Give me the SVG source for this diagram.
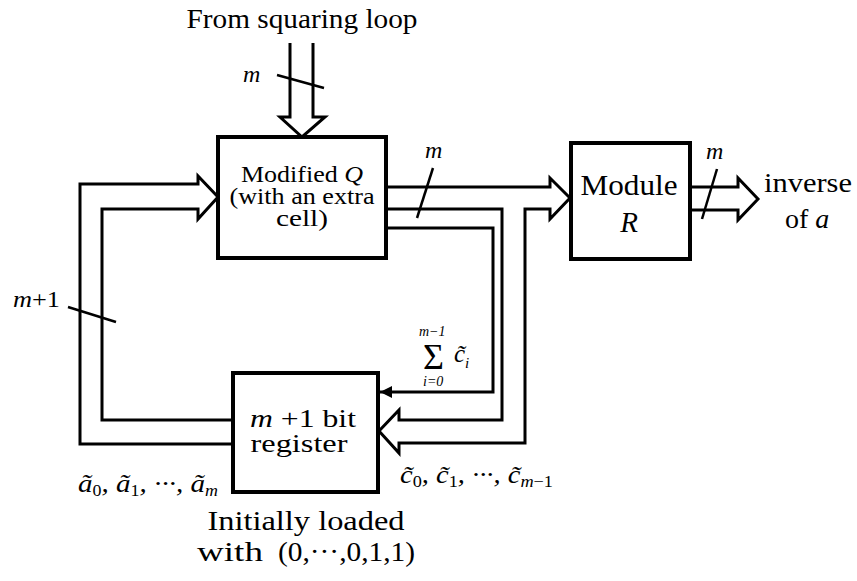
<svg xmlns="http://www.w3.org/2000/svg" width="857" height="581" viewBox="0 0 857 581">
<defs>
<style>
.box{fill:#fff;stroke:#000;stroke-width:4}
.bus{fill:none;stroke:#000;stroke-width:3;stroke-linejoin:miter}
.ln{fill:none;stroke:#000;stroke-width:3}
.sl{fill:none;stroke:#000;stroke-width:2.5}
.i{font-style:italic}
</style>
<marker id="fa" viewBox="0 0 10 10" refX="10" refY="5" markerWidth="6" markerHeight="4" markerUnits="strokeWidth" orient="auto">
<path d="M0,0 L10,5 L0,10 Z" fill="#000"/>
</marker>
</defs>
<rect width="857" height="581" fill="#fff"/>
<g font-family="'Liberation Serif', serif" fill="#000">
<text x="302" y="28" font-size="27" text-anchor="middle" textLength="231" lengthAdjust="spacingAndGlyphs">From squaring loop</text>
<g id="connectors">
<path class="bus" d="M290,43 V117 H280 L302,137 L325,117 H313 V43"/>
<path class="bus" d="M386,187 H550 V178 L570,198 L550,219 V209 H525 V443 H399 V453 L379,431 L399,410 V420 H502 V209 H386"/>
<path class="ln" d="M386,228 H493 V392 H380" marker-end="url(#fa)"/>
<path class="bus" d="M233,444 H80 V184 H198 V176 L218,197 L198,219 V209 H102 V420 H233"/>
<path class="bus" d="M690,187 H738 V178 L758,199 L738,220 V210 H690"/>
<line class="sl" x1="277" y1="75" x2="324" y2="88"/>
<line class="sl" x1="433" y1="168" x2="417" y2="218"/>
<line class="sl" x1="717" y1="169" x2="702" y2="219"/>
<line class="sl" x1="68" y1="307" x2="116" y2="322"/>
<text class="i" x="243" y="82" font-size="24">m</text>
<text class="i" x="425" y="158" font-size="24">m</text>
<text class="i" x="706" y="159" font-size="24">m</text>
<text x="13" y="307" font-size="24" textLength="47" lengthAdjust="spacingAndGlyphs"><tspan class="i">m</tspan>+1</text>
<text class="i" x="419" y="336" font-size="14">m−1</text>
<text x="423" y="369" font-size="36">Σ</text>
<text class="i" x="423" y="386" font-size="14">i=0</text>
<text class="i" x="454" y="362" font-size="25">c̃<tspan font-size="15" dy="6">i</tspan></text>
<text class="i" x="78" y="492" font-size="26" textLength="140" lengthAdjust="spacingAndGlyphs">ã<tspan font-size="16" dy="4" font-style="normal">0</tspan><tspan dy="-4">, ã</tspan><tspan font-size="16" dy="4" font-style="normal">1</tspan><tspan dy="-4">, ···, ã</tspan><tspan font-size="16" dy="4">m</tspan></text>
<text class="i" x="400" y="483" font-size="25" textLength="153" lengthAdjust="spacingAndGlyphs">c̃<tspan font-size="16" dy="4" font-style="normal">0</tspan><tspan dy="-4">, c̃</tspan><tspan font-size="16" dy="4" font-style="normal">1</tspan><tspan dy="-4">, ···, c̃</tspan><tspan font-size="16" dy="4">m</tspan><tspan font-size="16" font-style="normal">−1</tspan></text>
<text x="764" y="192" font-size="28" textLength="88" lengthAdjust="spacingAndGlyphs">inverse</text>
<text x="785" y="228" font-size="28">of <tspan class="i">a</tspan></text>
</g>
<g id="q">
<rect class="box" x="218" y="137" width="168" height="121"/>
<text x="302" y="182" font-size="24" text-anchor="middle" textLength="122" lengthAdjust="spacingAndGlyphs">Modified <tspan class="i">Q</tspan></text>
<text x="302" y="204" font-size="24" text-anchor="middle" textLength="145" lengthAdjust="spacingAndGlyphs">(with an extra</text>
<text x="302" y="226" font-size="24" text-anchor="middle" textLength="52" lengthAdjust="spacingAndGlyphs">cell)</text>
</g>
<g id="r">
<rect class="box" x="571" y="143" width="119" height="116"/>
<text x="629" y="195" font-size="29" text-anchor="middle" textLength="97" lengthAdjust="spacingAndGlyphs">Module</text>
<text class="i" x="629" y="232" font-size="29" text-anchor="middle">R</text>
</g>
<g id="register">
<rect class="box" x="233" y="373" width="145" height="119"/>
<text x="303" y="427" font-size="25" text-anchor="middle" textLength="106" lengthAdjust="spacingAndGlyphs"><tspan class="i">m</tspan> +1 bit</text>
<text x="299" y="452" font-size="25" text-anchor="middle" textLength="97" lengthAdjust="spacingAndGlyphs">register</text>
</g>
<text x="306" y="530" font-size="27" text-anchor="middle" textLength="197" lengthAdjust="spacingAndGlyphs">Initially loaded</text>
<text x="197" y="561" font-size="27" textLength="66" lengthAdjust="spacingAndGlyphs">with</text>
<text x="278" y="561" font-size="27" textLength="137" lengthAdjust="spacingAndGlyphs">(0,···,0,1,1)</text>
</g>
</svg>
